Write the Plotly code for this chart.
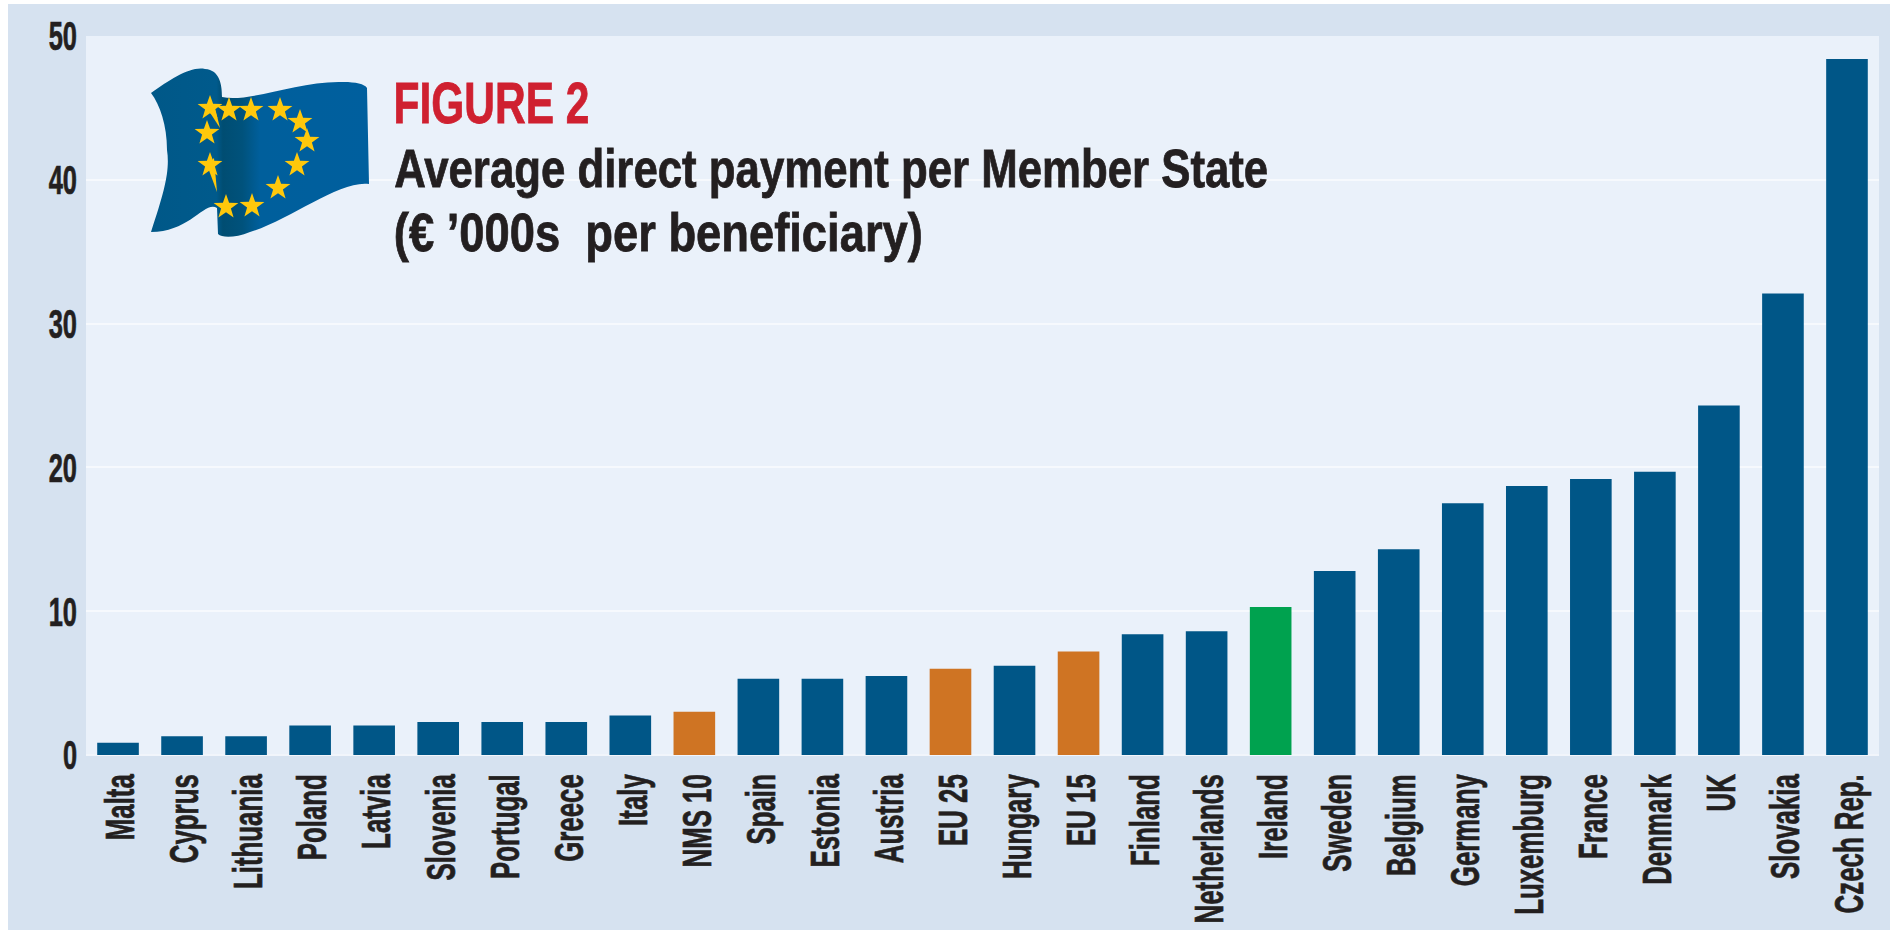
import base64
import math
import plotly.graph_objects as go

categories = ["Malta", "Cyprus", "Lithuania", "Poland", "Latvia", "Slovenia", "Portugal", "Greece", "Italy",
              "NMS 10", "Spain", "Estonia", "Austria", "EU 25", "Hungary", "EU 15", "Finland", "Netherlands",
              "Ireland", "Sweden", "Belgium", "Germany", "Luxemburg", "France", "Denmark", "UK", "Slovakia",
              "Czech Rep."]
values = [0.85, 1.3, 1.3, 2.05, 2.05, 2.3, 2.3, 2.3, 2.75, 3.0, 5.3, 5.3, 5.5, 6.0, 6.2, 7.2, 8.4, 8.6,
          10.3, 12.8, 14.3, 17.5, 18.7, 19.2, 19.7, 24.3, 32.1, 48.4]
y_ticks = [0, 10, 20, 30, 40, 50]
aggregates = ["NMS 10", "EU 25", "EU 15"]
highlight = "Ireland"

W, H = 1890, 930
L, R, T, B = 86, 1879, 36, 755
BLUE, ORANGE, GREEN = "#005687", "#cf7423", "#00a24f"
OUTER, PANEL, INK, RED = "#d6e2f0", "#eaf1fa", "#231f20", "#cf2030"
FONT = "Liberation Sans"


def px(x):
    return (x - L) / (R - L)


def py(y):
    return (B - y) / (B - T)


def star(cx, cy, r=13):
    pts = []
    for i in range(10):
        a = -math.pi / 2 + i * math.pi / 5
        rad = r if i % 2 == 0 else r * 0.4
        pts.append(f"{cx + rad * math.cos(a):.1f},{cy + rad * math.sin(a):.1f}")
    return f'<polygon points="{" ".join(pts)}" fill="#ffc80b"/>'


stars = [(210, 108), (229, 110), (251, 110), (280, 110), (300, 122), (307, 141), (297, 165),
         (278, 188), (252, 206), (226, 207), (210, 165), (207, 133)]
spikes = ('<polygon points="207,108 214,104 220,128" fill="#ffc80b"/>'
          '<polygon points="207,165 214,158 217,192" fill="#ffc80b"/>')
flag_path = ("M151,93 C170,80 190,66 205,69 C220,70 222,85 222,97 C250,103 300,80 344,82 "
             "C355,82 365,84 367,88 L369,184 C340,180 290,220 250,232 C235,238 222,238 218,234 "
             "L217,208 C205,200 190,232 151,232 C165,190 170,170 167,150 C167,125 160,105 151,93 Z")
svg = f'''<svg xmlns="http://www.w3.org/2000/svg" width="240" height="190" viewBox="140 60 240 190">
<defs><linearGradient id="g" gradientUnits="userSpaceOnUse" x1="151" x2="369" y1="0" y2="0">
<stop offset="0" stop-color="#005888"/><stop offset="0.3" stop-color="#005a8c"/>
<stop offset="0.33" stop-color="#004d72"/><stop offset="0.42" stop-color="#00527c"/>
<stop offset="0.5" stop-color="#005f9c"/><stop offset="1" stop-color="#005f9e"/>
</linearGradient></defs>
<path d="{flag_path}" fill="url(#g)"/>{"".join(star(*s) for s in stars)}{spikes}</svg>'''
flag_uri = "data:image/svg+xml;base64," + base64.b64encode(svg.encode()).decode()

colors = [GREEN if c == highlight else ORANGE if c in aggregates else BLUE for c in categories]

fig = go.Figure(go.Bar(
    x=categories, y=values, width=0.65,
    marker=dict(color=colors, line=dict(width=0)),
    hoverinfo="x+y",
))

title_font = dict(size=53, color=INK, family=FONT, weight="bold")
fig.update_layout(
    width=W, height=H, autosize=False,
    margin=dict(l=L, r=W - R, t=T, b=H - B, pad=0),
    paper_bgcolor="white", plot_bgcolor=PANEL,
    showlegend=False,
    font=dict(family=FONT, color=INK),
    bargap=0.35,
    shapes=[dict(type="rect", xref="paper", yref="paper", layer="below",
                 x0=px(8), x1=px(W), y0=py(H), y1=py(4), fillcolor=OUTER, line=dict(width=0)),
            dict(type="rect", xref="paper", yref="paper", layer="below",
                 x0=0, x1=1, y0=0, y1=1, fillcolor=PANEL, line=dict(width=0))],
    images=[dict(source=flag_uri, xref="paper", yref="paper", x=px(140), y=py(60),
                 sizex=240 / (R - L), sizey=190 / (B - T), sizing="stretch",
                 xanchor="left", yanchor="top", layer="above")],
    annotations=[
        dict(text="FIGURE 2", xref="paper", yref="paper", x=px(491), y=py(103), xanchor="center",
             yanchor="middle", showarrow=False, font=dict(size=57, color=RED, family=FONT, weight="bold")),
        dict(text="Average direct payment per Member State", xref="paper", yref="paper",
             x=px(831), y=py(168), xanchor="center", yanchor="middle", showarrow=False, font=title_font),
        dict(text="(€ ’000s  per beneficiary)", xref="paper", yref="paper",
             x=px(658), y=py(232), xanchor="center", yanchor="middle", showarrow=False, font=title_font),
    ],
)
fig.update_xaxes(type="category", categoryorder="array", categoryarray=categories, range=[-0.5, 27.5],
                 tickangle=-90, showgrid=False, zeroline=False, showline=False, automargin=False,
                 ticks="", ticklabelstandoff=10,
                 tickfont=dict(size=41, color=INK, family=FONT, weight="bold"))
fig.update_yaxes(range=[0, 50], tickvals=y_ticks, showgrid=True, gridcolor="#f6f9fd", gridwidth=1.5,
                 zeroline=True, zerolinecolor="#f1f5fb", zerolinewidth=1.5, showline=False, automargin=False,
                 ticks="", ticklabelstandoff=8,
                 tickfont=dict(size=41, color=INK, family=FONT, weight="bold"))

# The original face is a heavy condensed sans; none is installed, so the glyphs are narrowed in place.
post = """
document.body.style.margin='0';
function squeeze(sel, f, dy){
  document.querySelectorAll(sel).forEach(function(t){
    var n = t.getComputedTextLength();
    t.setAttribute('lengthAdjust','spacingAndGlyphs');
    t.setAttribute('textLength', (n*f).toFixed(1));
    t.setAttribute('dy', dy);
    t.style.stroke = '#231f20';
    t.style.strokeWidth = '0.7px';
  });
}
squeeze('.xtick text', 0.63, 3);
squeeze('.ytick text', 0.62, 0);
var widths = [196, 874, 529];
document.querySelectorAll('.annotation-text').forEach(function(t,i){
  t.setAttribute('lengthAdjust','spacingAndGlyphs');
  t.setAttribute('textLength', widths[i]);
  t.style.stroke = i === 0 ? '#cf2030' : '#231f20';
  t.style.strokeWidth = '0.8px';
});
"""
fig.write_html("out.html", post_script=post, config={"displayModeBar": False})
